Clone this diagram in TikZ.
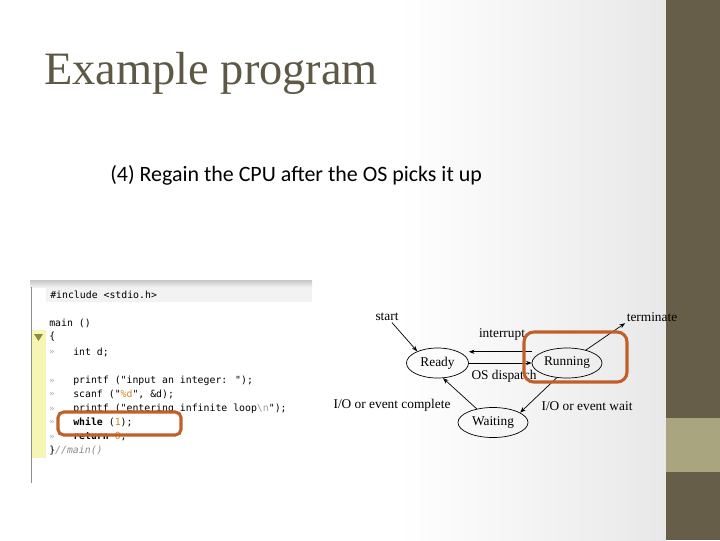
\documentclass[tikz,border=0pt]{standalone}
\usepackage{fontspec}
\usetikzlibrary{shapes.geometric,arrows.meta}
\setmainfont{Liberation Serif}
\newfontfamily\slidefont{Carlito}
\newfontfamily\codefont{DejaVu Sans Mono}
\definecolor{olive}{HTML}{665E48}
\definecolor{sage}{HTML}{A9A67F}
\definecolor{titlegray}{HTML}{5E5847}
\definecolor{rust}{HTML}{C05F28}
\definecolor{gutterbg}{HTML}{F6F6B4}
\definecolor{fold}{HTML}{8C8C3A}
\definecolor{numcol}{HTML}{D08A2A}

\begin{document}
\begin{tikzpicture}[x=0.025cm,y=-0.025cm,
  state/.style={ellipse,draw,line width=.5pt,minimum height=.75cm,inner sep=0pt,font=\fontsize{9.5}{11}\selectfont},
  lbl/.style={font=\fontsize{9.5}{11}\selectfont,inner sep=1pt},
  code/.style={anchor=west,inner sep=0pt,font=\codefont\fontsize{7}{8}\selectfont},
  gutter/.style={inner sep=0pt,text=black!35,font=\codefont\fontsize{6}{7}\selectfont},
  hl/.style={draw=rust,line width=2.2pt},
  arr/.style={-{Stealth[length=4pt,width=3pt]},line width=.5pt}]
\useasboundingbox (0,0) rectangle (720,540);
% slide background
\fill[white] (0,0) rectangle (400,540);
\shade[left color=white,right color=black!9] (400,0) rectangle (666,540);
\fill[olive] (666,0) rectangle (720,540);
\fill[sage] (666,418) rectangle (720,472);
\node[anchor=base west,inner sep=0pt,text=titlegray,font=\fontsize{33}{40}\selectfont] (title) at (44,84) {Example program};
\node[anchor=base west,inner sep=0pt,font=\slidefont\fontsize{15.6}{18}\selectfont] (sub) at (110,181) {(4) Regain the CPU after the OS picks it up};
% editor screenshot
\fill[white] (30,280) rectangle (312,484);
\shade[top color=black!22,bottom color=black!6] (30,280) rectangle (312,287);
\draw[black!45] (31,287) -- (31,483);
\fill[gutterbg] (32,330) rectangle (46,458);
\fill[black!5] (46,288) rectangle (312,302);
\fill[fold] (34,334) -- (43,334) -- (38.5,341) -- cycle;
\foreach \y in {352,381,394,409,422,437}{\node[gutter] (g\y) at (52,\y) {»};}
\node[code] (inc) at (50,295) {\#include <stdio.h>};
\node[code] (mainln) at (49,323) {main ()};
\node[code] (open) at (49,337) {\{};
\node[code] (decl) at (73,352) {int d;};
\node[code] (ask) at (73,381) {printf ("input an integer: ");};
\node[code] (read) at (73,394) {scanf ("\textcolor{numcol}{\%d}", \&d);};
\node[code] (tell) at (73,409) {printf ("entering infinite loop\textcolor{black!40}{\textbackslash n}");};
\node[code] (loop) at (73,422) {\textbf{while} (\textcolor{numcol}{1});};
\node[code] (ret) at (73,437) {\textbf{return} \textcolor{numcol}{0};};
\node[code] (close) at (49,451) {\}\textcolor{black!45}{\textit{//main()}}};
\draw[hl,rounded corners=4pt] (58,412) rectangle (181,435);
% state diagram
\node[state,minimum width=1.55cm] (ready) at (437.5,363) {Ready};
\node[state,minimum width=1.75cm] (running) at (567,363) {Running};
\node[state,minimum width=1.75cm] (waiting) at (493,422.5) {Waiting};
\node[lbl] (start) at (387,317) {start};
\node[lbl] (term) at (652,317) {terminate};
\node[lbl] (intr) at (502,334) {interrupt};
\node[lbl] (disp) at (504,376) {OS dispatch};
\node[lbl] (done) at (392,405) {I/O or event complete};
\node[lbl] (wait) at (587,406) {I/O or event wait};
\draw[arr] (start) -- (ready.150);
\draw[arr] ([yshift=8pt]running.west) -- ([yshift=8pt]ready.east);
\draw[arr] (ready.east) -- (running.west);
\draw[arr] (running) -- (term.south west);
\draw[arr] (running.235) -- (waiting.20);
\draw[arr] (waiting.140) -- (ready.290);
\draw[hl,rounded corners=7pt] (524,332) rectangle (627,382);
\end{tikzpicture}
\end{document}
